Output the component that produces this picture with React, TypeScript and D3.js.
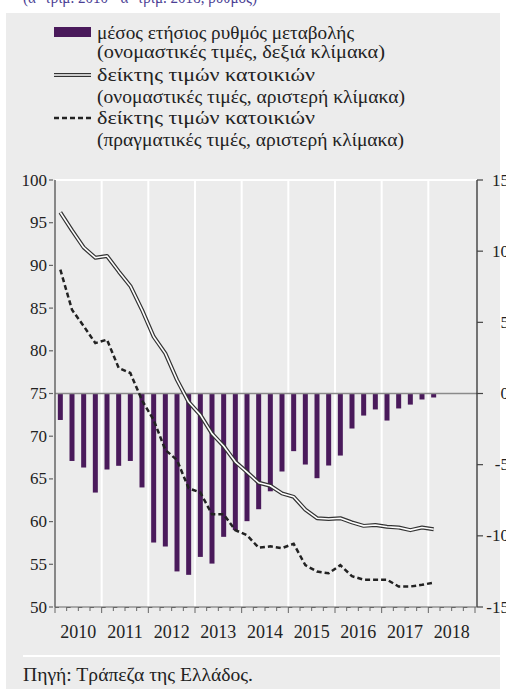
import React from 'react';
import * as d3 from 'd3';

const years = ['2010', '2011', '2012', '2013', '2014', '2015', '2016', '2017', '2018'];
const quartersPerYear = 4;

// quarterly data 2010Q1 .. 2018Q1
const changeRate = [-1.86, -4.74, -5.2, -6.96, -5.34, -5.08, -4.74, -6.6, -10.47, -10.75, -12.5, -12.74, -11.48, -11.95, -10.07, -9.6, -8.97, -8.13, -6.87, -5.48, -4.05, -4.99, -5.95, -5.06, -4.36, -2.46, -1.55, -1.12, -1.9, -1.05, -0.78, -0.42, -0.28];
const nominalIndex = [96.2, 94.1, 92.1, 90.9, 91.1, 89.3, 87.6, 84.8, 81.65, 79.7, 76.6, 74.0, 72.5, 70.3, 68.85, 67.0, 65.8, 64.55, 64.2, 63.3, 62.9, 61.4, 60.4, 60.3, 60.4, 59.9, 59.5, 59.6, 59.4, 59.3, 59.0, 59.3, 59.1];
const realIndex = [89.5, 84.8, 82.9, 80.9, 81.3, 78.0, 77.4, 74.2, 71.9, 68.4, 67.2, 63.9, 63.4, 60.85, 60.85, 59.0, 58.4, 56.95, 57.1, 56.9, 57.4, 54.9, 54.15, 53.95, 54.9, 53.6, 53.2, 53.2, 53.2, 52.4, 52.4, 52.6, 52.85];

const leftTicks = [50, 55, 60, 65, 70, 75, 80, 85, 90, 95, 100];
const rightTicks = [-15, -10, -5, 0, 5, 10, 15];

const legendLabels = [
  ['μέσος ετήσιος ρυθμός μεταβολής', '(ονομαστικές τιμές, δεξιά κλίμακα)'],
  ['δείκτης τιμών κατοικιών', '(ονομαστικές τιμές, αριστερή κλίμακα)'],
  ['δείκτης τιμών κατοικιών', '(πραγματικές τιμές, αριστερή κλίμακα)'],
];
const sourceText = 'Πηγή: Τράπεζα της Ελλάδος.';
const topText = '(α΄ τρίμ. 2010 - α΄ τρίμ. 2018, ρυθμός)';

const W = 506;
const H = 689;
const FONT = '"Liberation Serif", "Times New Roman", serif';

export default function App() {
  const left = 55;
  const right = 475;
  const top = 180;
  const bottom = 607;
  const nQ = years.length * quartersPerYear;

  const x = d3.scaleLinear().domain([0, nQ]).range([left, right]);
  const yL = d3.scaleLinear().domain([50, 100]).range([bottom, top]);
  const yR = d3.scaleLinear().domain([-15, 15]).range([bottom, top]);
  const px = (i: number) => x(i + 0.5) - 0.5;

  const line = d3
    .line<number>()
    .x((_, i) => px(i))
    .y((d) => yL(d));

  const barW = 5;
  const axisRight = 477;
  const legendBase = [39, 58, 81, 103, 124, 146];
  const legendWidths = [257, 288, 218, 308, 218, 307];

  return (
    <svg
      width={W}
      height={H}
      style={{ position: 'absolute', left: 0, top: 0, fontFamily: FONT }}
    >
      <rect x={0} y={0} width={W} height={H} fill="#ffffff" />
      <text x={23} y={3} fontSize={16} fill="#4c3f95" textLength={234} lengthAdjust="spacingAndGlyphs">{topText}</text>
      <rect x={6} y={13} width={494} height={H - 13} fill="#ececec" />

      {/* legend */}
      <rect x={54} y={27} width={37} height={10} fill="#4a1a5b" />
      <line x1={54} x2={91} y1={75} y2={75} stroke="#333" strokeWidth={4} />
      <line x1={54} x2={91} y1={75} y2={75} stroke="#fff" strokeWidth={1.6} />
      <line x1={54} x2={91} y1={118} y2={118} stroke="#222" strokeWidth={2.5} strokeDasharray="5,3" />
      {legendLabels.map((lab, k) => (
        <g key={k}>
          <text x={97} y={legendBase[k * 2]} fontSize={18} fill="#222" textLength={legendWidths[k * 2]} lengthAdjust="spacingAndGlyphs">{lab[0]}</text>
          <text x={97} y={legendBase[k * 2 + 1]} fontSize={18} fill="#222" textLength={legendWidths[k * 2 + 1]} lengthAdjust="spacingAndGlyphs">{lab[1]}</text>
        </g>
      ))}

      {/* grid */}
      <line x1={left} x2={axisRight} y1={top} y2={top} stroke="#fff" strokeWidth={2} />
      {years.map((_, k) =>
        k === 0 ? null : (
          <line
            key={k}
            x1={x(k * 4)}
            x2={x(k * 4)}
            y1={top}
            y2={bottom}
            stroke="#fff"
            strokeWidth={2}
          />
        )
      )}

      {/* bars */}
      {changeRate.map((v, i) => (
        <rect
          key={i}
          x={px(i) - barW / 2}
          y={yR(Math.max(0, v))}
          width={barW}
          height={Math.abs(yR(v) - yR(0))}
          fill="#4a1a5b"
        />
      ))}

      {/* zero line */}
      <line x1={left} x2={axisRight} y1={yR(0)} y2={yR(0)} stroke="#8a8a8a" strokeWidth={1.5} />

      {/* lines */}
      <path d={line(nominalIndex) || ''} fill="none" stroke="#333" strokeWidth={4} strokeLinejoin="round" />
      <path d={line(nominalIndex) || ''} fill="none" stroke="#fff" strokeWidth={1.6} strokeLinejoin="round" />
      <path d={line(realIndex) || ''} fill="none" stroke="#222" strokeWidth={2.5} strokeDasharray="5,3" />

      {/* left axis */}
      <line x1={left} x2={left} y1={top} y2={bottom} stroke="#666" strokeWidth={1.5} />
      {leftTicks.map((t) => (
        <g key={t}>
          <line x1={49} x2={53} y1={yL(t)} y2={yL(t)} stroke="#666" strokeWidth={1.2} />
          <text x={47} y={yL(t) + 5.5} fontSize={17} textAnchor="end" fill="#222">{t}</text>
        </g>
      ))}

      {/* right axis */}
      <line x1={axisRight} x2={axisRight} y1={top} y2={bottom} stroke="#222" strokeWidth={1.2} />
      {rightTicks.map((t) => (
        <g key={t}>
          <line x1={axisRight} x2={483} y1={yR(t)} y2={yR(t)} stroke="#444" strokeWidth={1.2} />
          <text x={509} y={yR(t) + 5.5} fontSize={17} textAnchor="end" fill="#222">{t}</text>
        </g>
      ))}

      {/* bottom axis */}
      <line x1={left} x2={axisRight} y1={bottom} y2={bottom} stroke="#666" strokeWidth={1.2} />
      {d3.range(nQ + 1).map((q) => (
        <g key={q}>
          <line
            x1={x(q)}
            x2={x(q)}
            y1={bottom}
            y2={bottom + (q % 4 === 0 ? 6 : 4)}
            stroke="#666"
            strokeWidth={1}
          />
          {q < nQ ? (
            <line x1={x(q)} x2={x(q) + 4} y1={bottom + 0.5} y2={bottom + 0.5} stroke="#666" strokeWidth={1} />
          ) : null}
        </g>
      ))}
      {years.map((yr, k) => (
        <text key={yr} x={x(k * 4 + 2)} y={638} fontSize={18} textAnchor="middle" fill="#222">{yr}</text>
      ))}

      {/* footer */}
      <line x1={23} x2={500} y1={656} y2={656} stroke="#fff" strokeWidth={2} />
      <text x={23} y={681} fontSize={18} fill="#222" textLength={230} lengthAdjust="spacingAndGlyphs">{sourceText}</text>
    </svg>
  );
}
